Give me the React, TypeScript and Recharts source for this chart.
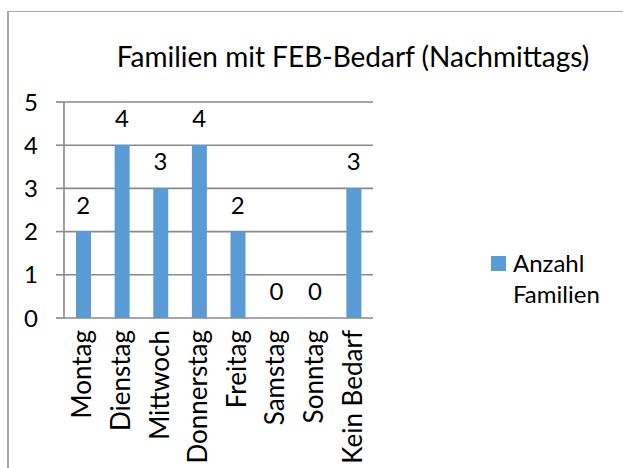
import React from 'react';
import { ComposedChart, Bar, Line, XAxis, YAxis, CartesianGrid, Legend, LabelList } from 'recharts';

const days = ['Montag', 'Dienstag', 'Mittwoch', 'Donnerstag', 'Freitag', 'Samstag', 'Sonntag', 'Kein Bedarf'];
const families = [2, 4, 3, 4, 2, 0, 0, 3];
const yTicks = [0, 1, 2, 3, 4, 5];
const edgeTicks = [0, 1, 2, 3, 4, 5, 6, 7, 8];

const data = days.map((day, i) => ({ day, value: families[i] }));

const GRAY = '#898989';
const BLUE = '#5b9bd5';
const FONT = 'Lato, sans-serif';

const DayTick = (props: any) => {
  const { x, y, payload } = props;
  return (
    <g transform={`translate(${x},${y}) rotate(-90)`}>
      <text x={0} y={0} dy={8} textAnchor="end" fill="#000" fontSize={26} fontFamily={FONT}>
        {payload.value}
      </text>
    </g>
  );
};

const renderLegend = () => (
  <div style={{ display: 'flex', alignItems: 'flex-start', fontFamily: FONT, fontSize: 24, lineHeight: '31px', color: '#000', width: 140 }}>
    <span style={{ display: 'inline-block', width: 15, height: 15, background: BLUE, marginTop: 9, marginRight: 7, flex: 'none' }} />
    <span>Anzahl<br />Familien</span>
  </div>
);

const App = () => {
  return (
    <div style={{ position: 'absolute', left: 0, top: 0, width: 623, height: 468, background: '#fff', overflow: 'hidden' }}>
      <div style={{ position: 'absolute', left: 7, top: 11, width: 700, height: 600, borderLeft: '2px solid #a6a6a6', borderTop: '1px solid #a6a6a6' }} />
      <div style={{ position: 'absolute', left: 0, top: 39, width: 706, textAlign: 'center', fontFamily: FONT, fontSize: 28, color: '#000' }}>
        Familien mit FEB-Bedarf (Nachmittags)
      </div>
      <div style={{ position: 'absolute', left: 0, top: 0 }}>
        <ComposedChart width={623} height={468} data={data} margin={{ top: 102, right: 250, bottom: 0, left: 0 }}>
          <CartesianGrid vertical={false} stroke={GRAY} strokeWidth={1.6} />
          <XAxis
            xAxisId="edges"
            type="number"
            domain={[0, 8]}
            ticks={edgeTicks}
            tick={false}
            tickSize={9}
            height={0}
            axisLine={{ stroke: GRAY, strokeWidth: 1.6 }}
            tickLine={{ stroke: GRAY, strokeWidth: 1.6 }}
          />
          <XAxis
            dataKey="day"
            height={150}
            interval={0}
            axisLine={false}
            tickLine={false}
            tickSize={0}
            tickMargin={12}
            tick={<DayTick />}
          />
          <YAxis
            width={64}
            domain={[0, 5]}
            ticks={yTicks}
            interval={0}
            tickSize={8}
            tickMargin={18}
            axisLine={{ stroke: GRAY, strokeWidth: 1.6 }}
            tickLine={{ stroke: GRAY, strokeWidth: 1.6 }}
            tick={{ fill: '#000', fontSize: 24, fontFamily: FONT }}
          />
          <Legend
            verticalAlign="top"
            align="left"
            layout="horizontal"
            content={renderLegend}
            wrapperStyle={{ position: 'absolute', left: 491, top: 247, width: 0, height: 0, overflow: 'visible' }}
          />
          <Bar dataKey="value" name="Anzahl Familien" fill={BLUE} barSize={15} isAnimationActive={false} />
          <Line dataKey="value" stroke="none" dot={false} activeDot={false} legendType="none" isAnimationActive={false}>
            <LabelList dataKey="value" position="top" offset={18} fill="#000" fontSize={24} fontFamily={FONT} />
          </Line>
        </ComposedChart>
      </div>
    </div>
  );
};

export default App;
